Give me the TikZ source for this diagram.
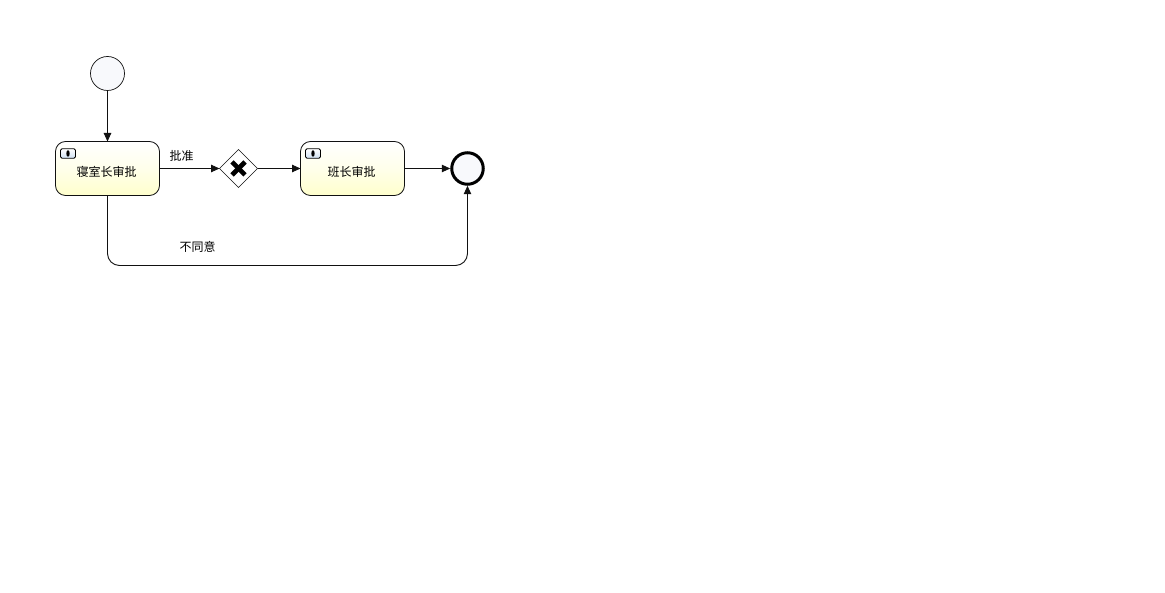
\documentclass[tikz,border=0pt]{standalone}
\usepackage{fontspec}
\setmainfont{Noto Sans CJK SC}
\usetikzlibrary{arrows.meta,positioning,calc,shapes.geometric}
\definecolor{linecolor}{HTML}{111111}
\definecolor{eventfill}{HTML}{F8F9FC}
\definecolor{taskyellow}{HTML}{FFFFCC}
\definecolor{iconblue}{HTML}{CFE0F2}
\tikzset{
	flow/.style={draw=linecolor, line width=.9pt, -{Triangle[length=8.5pt,width=7.5pt]}},
	startevent/.style={circle, draw=linecolor, line width=.7pt, fill=eventfill, minimum size=34pt, inner sep=0pt, outer sep=0pt},
	endevent/.style={circle, draw=black, line width=3pt, fill=eventfill, minimum size=31.5pt, inner sep=0pt, outer sep=1.5pt},
	task/.style={rectangle, rounded corners=10pt, draw=linecolor, line width=.8pt, top color=white, bottom color=taskyellow, middle color=white!60!taskyellow, minimum width=104pt, minimum height=54pt, inner sep=0pt, outer sep=0pt, font=\fontsize{12}{14}\selectfont, text height=16.5pt, text depth=0pt, execute at end node=\hspace*{2pt}},
	gateway/.style={diamond, draw=linecolor, line width=.5pt, fill=white, minimum size=38pt, inner sep=0pt, outer sep=0pt},
	gatemark/.style={draw=black, line width=4.6pt},
	taskicon/.style={rectangle, rounded corners=1.5pt, draw=black, line width=.9pt, top color=white, bottom color=iconblue, minimum width=15pt, minimum height=9.5pt, inner sep=0pt},
	iconmark/.style={ellipse, fill=black, minimum width=3.4pt, minimum height=6.5pt, inner sep=0pt},
	flowlabel/.style={font=\fontsize{12}{14}\selectfont, inner sep=0pt}
}
\begin{document}
\begin{tikzpicture}[x=1pt, y=-1pt]
	\useasboundingbox (0,0) rectangle (1165,593);
	% events and tasks
	\node[startevent] (start) at (107.5,73.5) {};
	\node[task] (dorm) at (107.5,168.5) {寝室长审批};
	\node[gateway] (gate) at (238.5,168.5) {};
	\node[task] (monitor) at (352.5,168.5) {班长审批};
	\node[endevent] (finish) at (467.5,168.5) {};
	% gateway cross
	\draw[gatemark] ($(gate)+(-6.5,-6.5)$) -- ($(gate)+(6.5,6.5)$);
	\draw[gatemark] ($(gate)+(-6.5,6.5)$) -- ($(gate)+(6.5,-6.5)$);
	% task icons
	\node[taskicon] (dormicon) at (68,153.5) {};
	\node[iconmark] (dormmark) at (68,153.5) {};
	\node[taskicon] (monitoricon) at (313,153.5) {};
	\node[iconmark] (monitormark) at (313,153.5) {};
	% flows
	\coordinate (downleft) at (107.5,265.5);
	\coordinate (downright) at (467.5,265.5);
	\draw[flow] (start) -- (dorm);
	\draw[flow] (dorm) -- (gate);
	\draw[flow] (gate) -- (monitor);
	\draw[flow] (monitor) -- (finish);
	\draw[flow, rounded corners=12pt] (dorm.south) -- (downleft) -- (downright) -- (finish.south);
	% labels
	\node[flowlabel] (approved) at (181.5,155.5) {批准};
	\node[flowlabel] (refused) at (197.5,247) {不同意};
\end{tikzpicture}
\end{document}
